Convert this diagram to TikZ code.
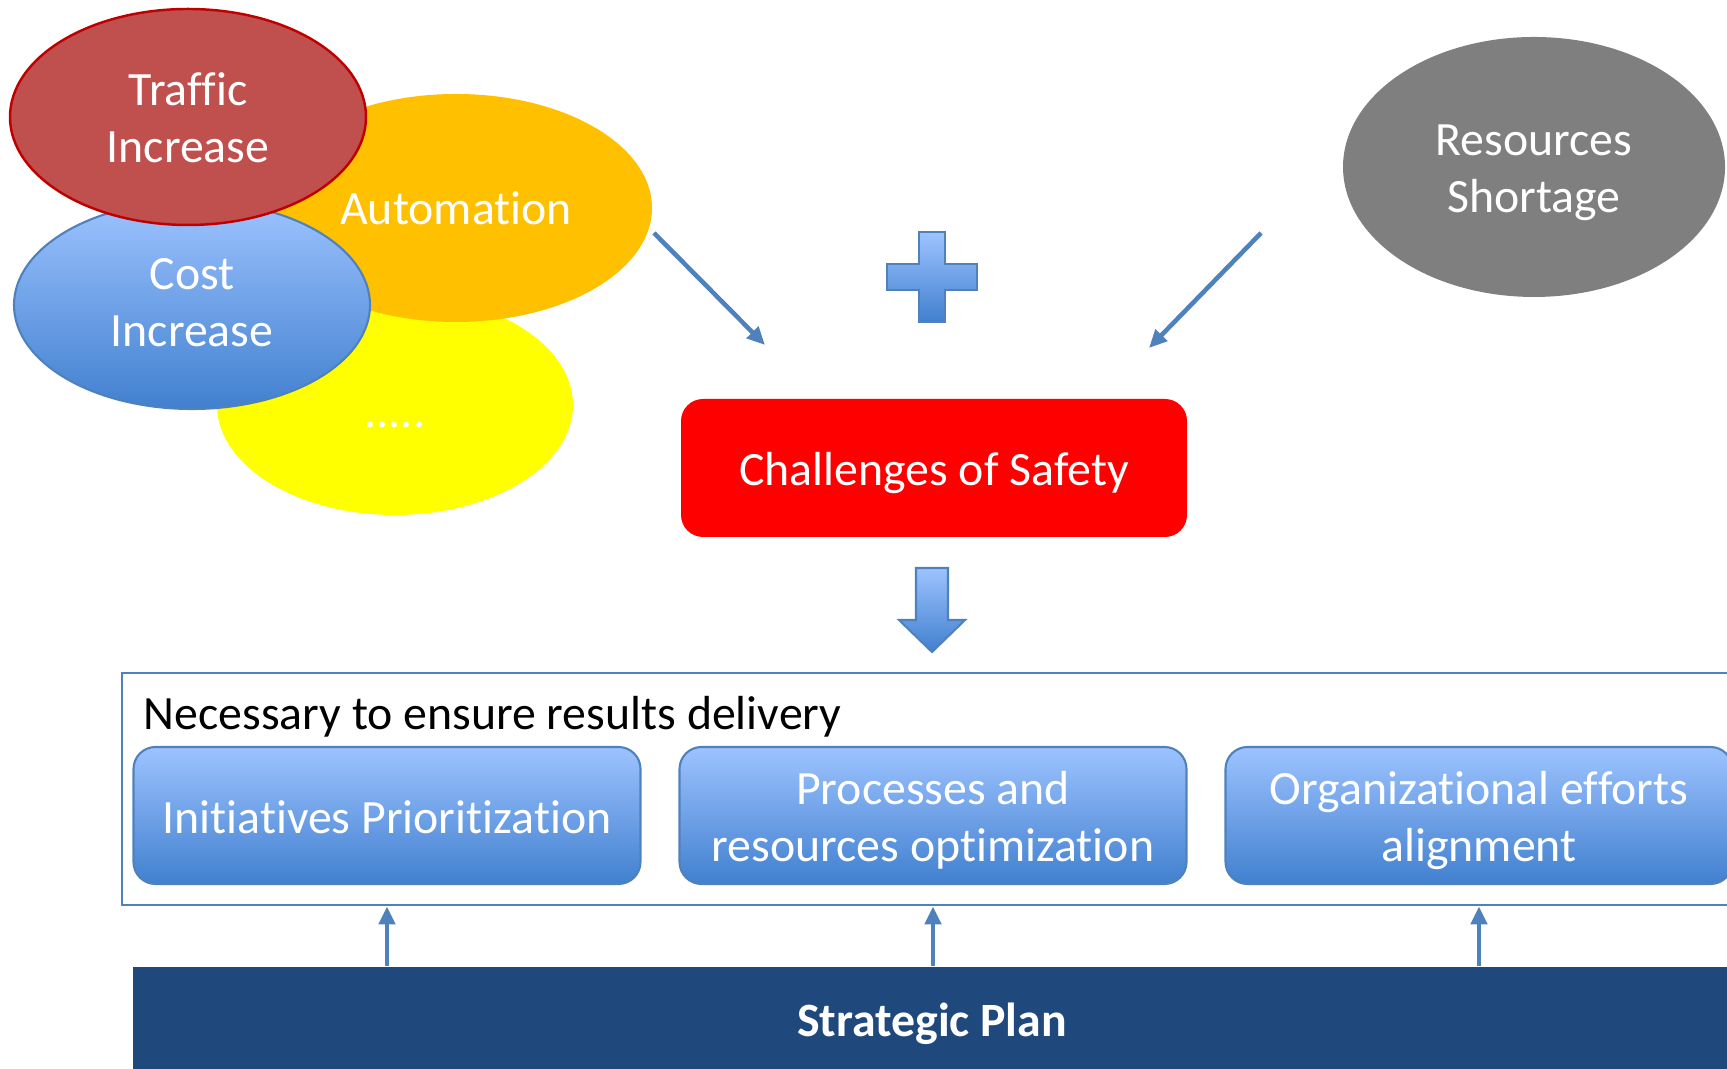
\documentclass[tikz,border=0pt]{standalone}
\usepackage{fontspec}
\setmainfont{Carlito}[Ligatures=NoCommon]
\usetikzlibrary{shapes.geometric,arrows.meta}
\definecolor{trafficred}{HTML}{C0504D}
\definecolor{trafficline}{HTML}{C00000}
\definecolor{autoorange}{HTML}{FFC000}
\definecolor{dotsyellow}{HTML}{FFFF00}
\definecolor{shortgray}{HTML}{7F7F7F}
\definecolor{accentblue}{HTML}{4F81BD}
\definecolor{lightblue}{HTML}{9DC3FF}
\definecolor{deepblue}{HTML}{4180CF}
\definecolor{planblue}{HTML}{1F497D}
\newcommand{\slidefont}{\fontsize{13.6}{16.2}\selectfont}
\newcommand{\drop}[2][0.05cm]{\raisebox{-#1}[\height][\depth]{\begin{tabular}{@{}c@{}}#2\end{tabular}}}

\begin{document}
\begin{tikzpicture}[
		font=\slidefont,
		bubble/.style={ellipse, minimum width=3.56cm, minimum height=2.16cm, inner sep=0pt, text=white, align=center},
		bluefill/.style={top color=lightblue, bottom color=deepblue, draw=accentblue, line width=0.6pt},
		task/.style={bluefill, rounded corners=0.22cm, minimum width=5.07cm, minimum height=1.37cm, inner sep=0pt, text=white, align=center},
		link/.style={draw=accentblue, line width=1.3pt, -{Triangle[length=0.18cm,width=0.16cm]}}
	]
			\useasboundingbox (0,0) rectangle (17.27,10.69);
			\clip (0,0) rectangle (17.27,10.69);
			
			% the causes, back to front
			\node[bubble, fill=dotsyellow, minimum height=2.20cm] (more) at (3.95,6.64) {\drop[0.11cm]{.....}};
			\node[bubble, fill=autoorange, minimum width=3.92cm, minimum height=2.28cm] (auto) at (4.56,8.61) {Automation};
			\node[bubble, bluefill, minimum height=2.08cm] (cost) at (1.92,7.64) {\drop[0.015cm]{Cost\\Increase}};
			\node[bubble, fill=trafficred, draw=trafficline, line width=0.7pt] (traffic) at (1.88,9.52) {\drop[0.06cm]{Traffic\\Increase}};
			\node[bubble, fill=shortgray, minimum width=3.82cm, minimum height=2.60cm] (short) at (15.34,9.02) {\drop[0.06cm]{Resources\\Shortage}};
			
			% plus sign
			\draw[bluefill, shift={(9.32,7.92)}] (-0.13,0.45) -- (0.13,0.45) -- (0.13,0.13) -- (0.45,0.13) -- (0.45,-0.13) -- (0.13,-0.13) -- (0.13,-0.45) -- (-0.13,-0.45) -- (-0.13,-0.13) -- (-0.45,-0.13) -- (-0.45,0.13) -- (-0.13,0.13) -- cycle;
			
			\coordinate (outL) at (6.54,8.36);
			\coordinate (inL) at (7.65,7.24);
			\coordinate (outR) at (12.61,8.36);
			\coordinate (inR) at (11.49,7.21);
			\draw[link] (outL) -- (inL);
			\draw[link] (outR) -- (inR);
			
			\node[fill=red, rounded corners=0.22cm, minimum width=5.06cm, minimum height=1.38cm, text=white] (safety) at (9.34,6.01) {\drop[0.065cm]{Challenges of Safety}};
			
			% block arrow down
			\draw[bluefill, shift={(9.32,0)}] (-0.16,5.01) -- (0.16,5.01) -- (0.16,4.49) -- (0.33,4.49) -- (0,4.17) -- (-0.33,4.49) -- (-0.16,4.49) -- cycle;
			
			\node[draw=accentblue, line width=0.8pt, minimum width=16.22cm, minimum height=2.32cm, inner sep=0pt] (needs) at (9.33,2.80) {};
			\node[anchor=west, inner sep=0pt] (needslabel) at (1.43,3.52) {Necessary to ensure results delivery};
			
			\node[task] (prior) at (3.87,2.535) {\drop[0.065cm]{Initiatives Prioritization}};
			\node[task] (optim) at (9.33,2.535) {\drop[0.065cm]{Processes and\\resources optimization}};
			\node[task] (effort) at (14.79,2.535) {\drop[0.065cm]{Organizational efforts\\alignment}};
			
			\node[fill=planblue, minimum width=15.98cm, minimum height=1.06cm, inner sep=0pt, text=white, font=\slidefont\bfseries] (plan) at (9.32,0.49) {\drop[0.055cm]{Strategic Plan}};
			
			\foreach \b in {prior,optim,effort}
				\draw[link] (plan.north -| \b) -- (needs.south -| \b);
		\end{tikzpicture}
\end{document}
